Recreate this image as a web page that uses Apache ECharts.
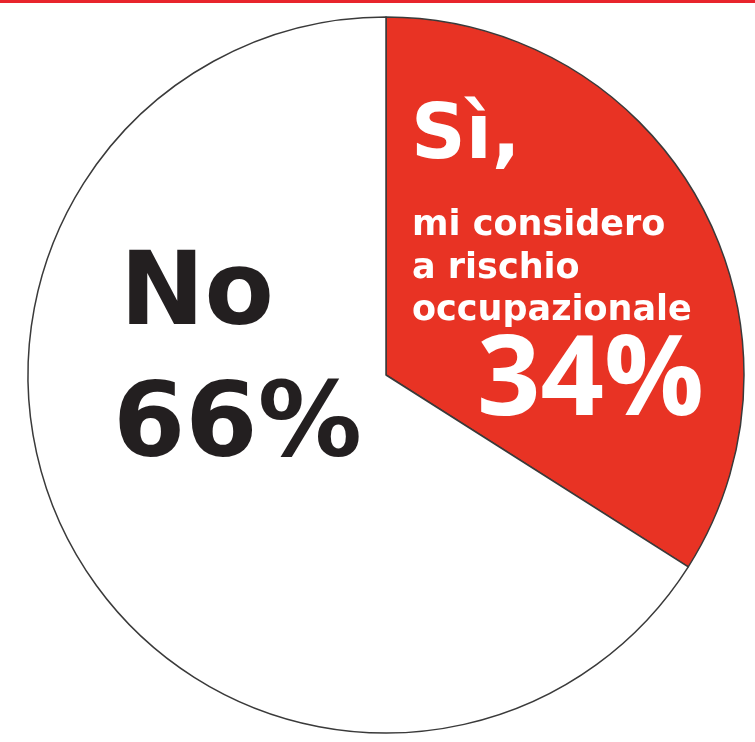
<!DOCTYPE html>
<html>
<head>
<meta charset="utf-8">
<script src="https://cdn.jsdelivr.net/npm/echarts@6/dist/echarts.min.js"></script>
<style>
html,body{margin:0;padding:0;background:#fff;}
#c{width:755px;height:742px;}
</style>
</head>
<body>
<div id="c"></div>
<script>
const categories = ['Sì', 'No'];
const values = [34, 66];
const sliceColors = ['#e83324', '#ffffff'];
const yesLines = ['mi considero', 'a rischio', 'occupazionale'];

const chart = echarts.init(document.getElementById('c'));
const OS = '"Open Sans", "Noto Sans", sans-serif';
const DJ = '"DejaVu Sans", sans-serif';
function txt(x, y, text, size, fill, fam) {
  return { type: 'text', x: x, y: y, z: 100, style: { text: text, font: 'bold ' + size + 'px ' + fam, fill: fill, textVerticalAlign: 'middle' } };
}
chart.setOption({
  backgroundColor: '#ffffff',
  animation: false,
  series: [{
    type: 'pie',
    z: 2,
    center: [386, 375],
    radius: 358,
    startAngle: 90,
    clockwise: true,
    label: { show: false },
    labelLine: { show: false },
    emphasis: { disabled: true },
    itemStyle: { borderColor: '#3a3a3a', borderWidth: 1.5 },
    data: categories.map((c, i) => ({ name: c, value: values[i], itemStyle: { color: sliceColors[i] } }))
  }],
  graphic: [
    { type: 'rect', z: 100, shape: { x: 0, y: 0, width: 755, height: 3 }, style: { fill: '#e8242c' } },
    txt(411, 138, categories[0] + ',', 76, '#fff', DJ),
    txt(412, 226, yesLines[0], 35, '#fff', DJ),
    txt(412, 269, yesLines[1], 35, '#fff', DJ),
    txt(412, 311, yesLines[2], 35, '#fff', DJ),
    txt(477, 383, values[0] + '%', 111, '#fff', OS),
    txt(120, 298, categories[1], 101, '#231f20', DJ),
    txt(113, 429, values[1] + '%', 104, '#231f20', DJ)
  ]
});
</script>
</body>
</html>
